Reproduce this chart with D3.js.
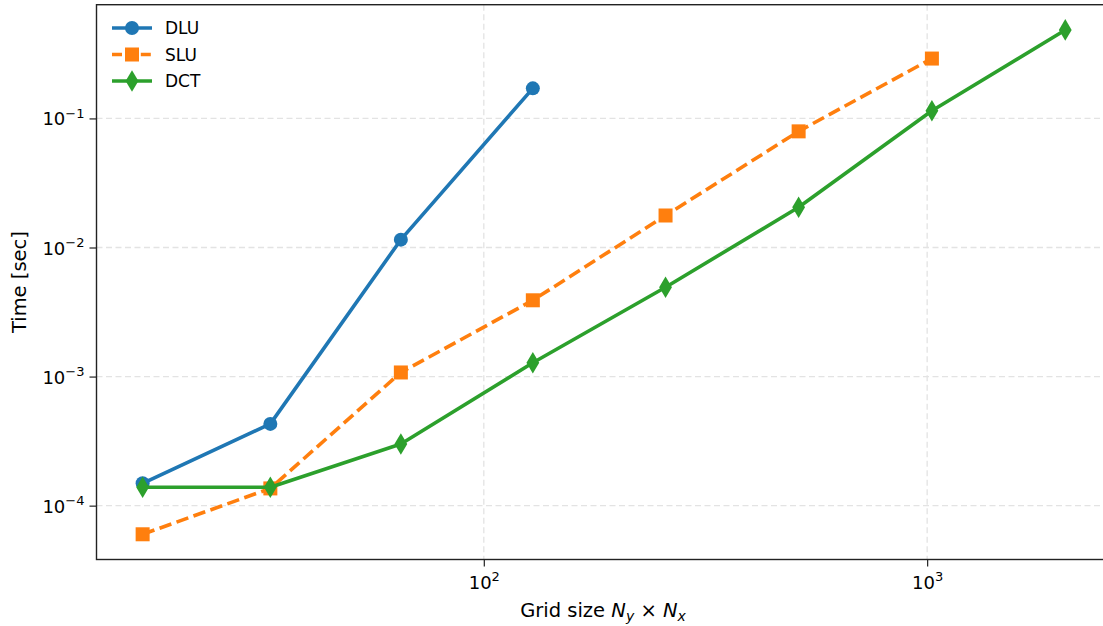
<!DOCTYPE html>
<html>
<head>
<meta charset="utf-8">
<script src="https://cdn.jsdelivr.net/npm/d3@7"></script>
<style>
  body { margin: 0; background: #fff; }
  text { font-family: "DejaVu Sans", sans-serif; fill: #000; }
</style>
</head>
<body>
<div id="chart-container"></div>
<script>
// CONSTANTS
const WIDTH = 1103;
const HEIGHT = 626;
const PLOT_LEFT = 96.5;
const PLOT_RIGHT = 1111.4;
const PLOT_TOP = 4.7;
const PLOT_BOTTOM = 559.5;
const LINE_W = 3.6;

// DATA
const gridSizes = [17, 33, 65, 129, 257, 513, 1025, 2049];
const dluTimes = [1.49e-4, 4.3e-4, 1.15e-2, 0.171];
const sluTimes = [6.0e-5, 1.36e-4, 1.076e-3, 3.9e-3, 1.77e-2, 7.94e-2, 0.291];
const dctTimes = [1.39e-4, 1.39e-4, 3.0e-4, 1.28e-3, 4.92e-3, 2.05e-2, 0.1147, 0.485];
const seriesNames = ["DLU", "SLU", "DCT"];
const xTickValues = [1e2, 1e3];
const xTickExps = ["2", "3"];
const yTickValues = [1e-4, 1e-3, 1e-2, 1e-1];
const yTickExps = ["\u22124", "\u22123", "\u22122", "\u22121"];

const seriesList = [
  { name: seriesNames[0], values: dluTimes, color: "#1f77b4", marker: "circle", dash: null },
  { name: seriesNames[1], values: sluTimes, color: "#ff7f0e", marker: "square", dash: "12.5,5.5" },
  { name: seriesNames[2], values: dctTimes, color: "#2ca02c", marker: "diamond", dash: null },
];

// matplotlib style autoscale: 5% margin in log space
const logPad = (vals) => {
  const lo = Math.log10(d3.min(vals));
  const hi = Math.log10(d3.max(vals));
  const m = (hi - lo) * 0.05;
  return [Math.pow(10, lo - m), Math.pow(10, hi + m)];
};

const allTimes = [].concat(dluTimes, sluTimes, dctTimes);

const xScale = d3.scaleLog().domain(logPad(gridSizes)).range([PLOT_LEFT, PLOT_RIGHT]);
const yScale = d3.scaleLog().domain(logPad(allTimes)).range([PLOT_BOTTOM, PLOT_TOP]);

const svg = d3.select("#chart-container")
  .append("svg")
  .attr("width", WIDTH)
  .attr("height", HEIGHT);

// grid
const gridG = svg.append("g")
  .attr("stroke", "#e3e3e3")
  .attr("stroke-width", 1.3)
  .attr("stroke-dasharray", "6,3.5");

gridG.selectAll(".vgrid")
  .data(xTickValues)
  .enter()
  .append("line")
  .attr("x1", d => xScale(d))
  .attr("x2", d => xScale(d))
  .attr("y1", PLOT_TOP)
  .attr("y2", PLOT_BOTTOM);

gridG.selectAll(".hgrid")
  .data(yTickValues)
  .enter()
  .append("line")
  .attr("x1", PLOT_LEFT)
  .attr("x2", PLOT_RIGHT)
  .attr("y1", d => yScale(d))
  .attr("y2", d => yScale(d));

// axes
const xAxis = d3.axisBottom(xScale)
  .tickValues(xTickValues)
  .tickSize(7)
  .tickPadding(5)
  .tickFormat("");
const yAxis = d3.axisLeft(yScale)
  .tickValues(yTickValues)
  .tickSize(7)
  .tickPadding(5)
  .tickFormat("");

const xAxisG = svg.append("g")
  .attr("transform", `translate(0,${PLOT_BOTTOM})`)
  .call(xAxis);
const yAxisG = svg.append("g")
  .attr("transform", `translate(${PLOT_LEFT},0)`)
  .call(yAxis);

[xAxisG, yAxisG].forEach(g => {
  g.select(".domain").remove();
  g.selectAll(".tick line").attr("stroke", "#222").attr("stroke-width", 1.2);
});

// tick labels with superscripts
xAxisG.selectAll(".tick")
  .each(function (d, i) {
    const t = d3.select(this).append("text")
      .attr("y", 29)
      .attr("text-anchor", "middle")
      .style("font-size", "18px");
    t.append("tspan").text("10");
    t.append("tspan").attr("dy", -7.5).style("font-size", "13px").text(xTickExps[i]);
  });

yAxisG.selectAll(".tick")
  .each(function (d, i) {
    const t = d3.select(this).append("text")
      .attr("x", -12)
      .attr("y", 6.5)
      .attr("text-anchor", "end")
      .style("font-size", "18px");
    t.append("tspan").text("10");
    t.append("tspan").attr("dy", -7.5).style("font-size", "13px").text(yTickExps[i]);
  });

// spines
svg.append("rect")
  .attr("x", PLOT_LEFT)
  .attr("y", PLOT_TOP)
  .attr("width", PLOT_RIGHT - PLOT_LEFT)
  .attr("height", PLOT_BOTTOM - PLOT_TOP)
  .attr("fill", "none")
  .attr("stroke", "#222")
  .attr("stroke-width", 1.4);

// markers
const drawMarker = (sel, marker, color) => {
  if (marker === "circle") {
    sel.append("circle").attr("r", 7).attr("fill", color);
  } else if (marker === "square") {
    sel.append("rect")
      .attr("x", -7).attr("y", -7)
      .attr("width", 14).attr("height", 14)
      .attr("fill", color);
  } else {
    sel.append("path")
      .attr("d", "M0,-10.8 L6.4,0 L0,10.8 L-6.4,0 Z")
      .attr("fill", color);
  }
};

const lineGen = d3.line()
  .x((d, i) => xScale(gridSizes[i]))
  .y(d => yScale(d));

seriesList.forEach(s => {
  const g = svg.append("g");
  g.append("path")
    .datum(s.values)
    .attr("d", lineGen)
    .attr("fill", "none")
    .attr("stroke", s.color)
    .attr("stroke-width", LINE_W)
    .attr("stroke-linejoin", "round")
    .attr("stroke-dasharray", s.dash);
  g.selectAll(".pt")
    .data(s.values)
    .enter()
    .append("g")
    .attr("transform", (d, i) => `translate(${xScale(gridSizes[i])},${yScale(d)})`)
    .each(function () { drawMarker(d3.select(this), s.marker, s.color); });
});

// axis labels
const xLabel = svg.append("text")
  .attr("x", 603)
  .attr("y", 617)
  .attr("text-anchor", "middle")
  .style("font-size", "19.5px");
xLabel.append("tspan").text("Grid size ");
xLabel.append("tspan").style("font-style", "italic").text("N");
xLabel.append("tspan").attr("dy", 4).style("font-size", "14px").style("font-style", "italic").text("y");
xLabel.append("tspan").attr("dy", -4).text(" \u00d7 ");
xLabel.append("tspan").style("font-style", "italic").text("N");
xLabel.append("tspan").attr("dy", 4).style("font-size", "14px").style("font-style", "italic").text("x");

svg.append("text")
  .attr("transform", `translate(26,${(PLOT_TOP + PLOT_BOTTOM) / 2}) rotate(-90)`)
  .attr("text-anchor", "middle")
  .style("font-size", "19.5px")
  .text("Time [sec]");

// legend
const legendG = svg.append("g").attr("transform", "translate(112,28)");
seriesList.forEach((s, i) => {
  const row = legendG.append("g").attr("transform", `translate(0,${i * 26.5})`);
  row.append("line")
    .attr("x1", 0).attr("x2", 40)
    .attr("stroke", s.color)
    .attr("stroke-width", LINE_W)
    .attr("stroke-dasharray", s.dash ? "10,4.4" : null);
  drawMarker(row.append("g").attr("transform", "translate(20,0)"), s.marker, s.color);
  row.append("text")
    .attr("x", 53)
    .attr("y", 6)
    .style("font-size", "17px")
    .text(s.name);
});
</script>
</body>
</html>
